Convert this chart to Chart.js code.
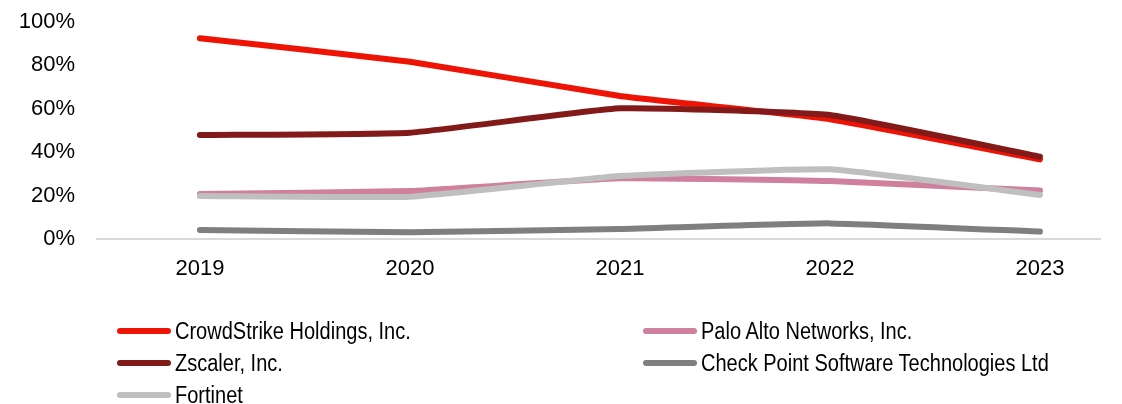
<!DOCTYPE html>
<html>
<head>
<meta charset="utf-8">
<script src="https://cdn.jsdelivr.net/npm/chart.js@4/dist/chart.umd.min.js"></script>
<style>
  body { margin: 0; background: #fff; }
  #wrap { position: relative; width: 1122px; height: 404px; }
  #legend { position: absolute; left: 0; top: 0; width: 1122px; height: 404px; pointer-events: none;
            font-family: "Liberation Sans", Arial, sans-serif; color: #000; }
  .item { position: absolute; height: 30px; display: flex; align-items: center; white-space: nowrap; }
  .swatch { width: 54px; height: 6px; border-radius: 3px; }
  .lbl { font-size: 23px; transform: scaleX(0.87); transform-origin: left center; margin-left: 4px; }
</style>
</head>
<body>
<div id="wrap">
  <canvas id="graphiqueLignes" width="1122" height="404"></canvas>
  <div id="legend"></div>
</div>
<script>
// years on the x axis
var years = ['2019', '2020', '2021', '2022', '2023'];
var yTicks = [0, 20, 40, 60, 80, 100];

// values in %
var crowdstrike = [92.5, 81.7, 65.9, 55.2, 36.7];
var paloAlto    = [20.7, 22.1, 28.0, 26.7, 22.3];
var zscaler     = [47.9, 49.0, 60.2, 57.1, 37.9];
var checkPoint  = [4.1, 3.1, 4.6, 7.2, 3.4];
var fortinet    = [19.8, 19.5, 29.0, 32.1, 20.3];

var series = [
  { label: 'CrowdStrike Holdings, Inc.', data: crowdstrike, color: '#EE1405' },
  { label: 'Palo Alto Networks, Inc.', data: paloAlto, color: '#CF809D' },
  { label: 'Zscaler, Inc.', data: zscaler, color: '#821A1A' },
  { label: 'Check Point Software Technologies Ltd', data: checkPoint, color: '#7F7F7F' },
  { label: 'Fortinet', data: fortinet, color: '#BFBFBF' }
];

function toPoints(vals) {
  return years.map(function(y, i) { return { x: Number(y), y: vals[i] }; });
}

var datasets = series.map(function(s, i) {
  return {
    label: s.label,
    data: toPoints(s.data),
    borderColor: s.color,
    backgroundColor: s.color,
    borderWidth: 6,
    borderCapStyle: 'round',
    borderJoinStyle: 'round',
    pointRadius: 0,
    tension: 0.12,
    order: series.length - i   // later series drawn on top
  };
});

var ctx = document.getElementById('graphiqueLignes').getContext('2d');
var tickFont = { family: '"Liberation Sans", Arial, sans-serif', size: 22 };

var chart = new Chart(ctx, {
  type: 'line',
  data: { datasets: datasets },
  options: {
    responsive: false,
    animation: false,
    layout: { padding: { top: 22, right: 22, bottom: 120, left: 0 } },
    plugins: { legend: { display: false }, tooltip: { enabled: false } },
    scales: {
      x: {
        type: 'linear',
        min: 2018.51,
        max: 2023.286,
        grid: { drawOnChartArea: false, drawTicks: false },
        border: { display: true, color: '#D9D9D9', width: 2 },
        afterBuildTicks: function(scale) {
          scale.ticks = years.map(function(y) { return { value: Number(y) }; });
        },
        ticks: {
          font: tickFont, color: '#000', padding: 17, maxRotation: 0, autoSkip: false,
          callback: function(v) { return String(v); }
        },
        afterFit: function(scale) {
          scale.height = 45;
          scale.paddingLeft = 0; scale.paddingRight = 0;
        }
      },
      y: {
        min: 0, max: 100,
        grid: { display: false, drawTicks: false },
        border: { display: false },
        afterBuildTicks: function(scale) {
          scale.ticks = yTicks.map(function(v) { return { value: v }; });
        },
        ticks: {
          font: tickFont, color: '#000', padding: 22,
          callback: function(v) { return v + '%'; }
        },
        afterFit: function(scale) {
          scale.width = 97;
          scale.paddingTop = 0; scale.paddingBottom = 0;
        }
      }
    }
  }
});

// legend in two columns under the chart
var legendPos = [
  { left: 117, top: 316 }, { left: 643, top: 316 },
  { left: 117, top: 348 }, { left: 643, top: 348 },
  { left: 117, top: 380 }
];
var legend = document.getElementById('legend');
chart.data.datasets.forEach(function(ds, i) {
  var item = document.createElement('div');
  item.className = 'item';
  item.style.left = legendPos[i].left + 'px';
  item.style.top = legendPos[i].top + 'px';
  var sw = document.createElement('div');
  sw.className = 'swatch';
  sw.style.background = ds.borderColor;
  var lbl = document.createElement('span');
  lbl.className = 'lbl';
  lbl.textContent = ds.label;
  item.appendChild(sw);
  item.appendChild(lbl);
  legend.appendChild(item);
});
</script>
</body>
</html>
